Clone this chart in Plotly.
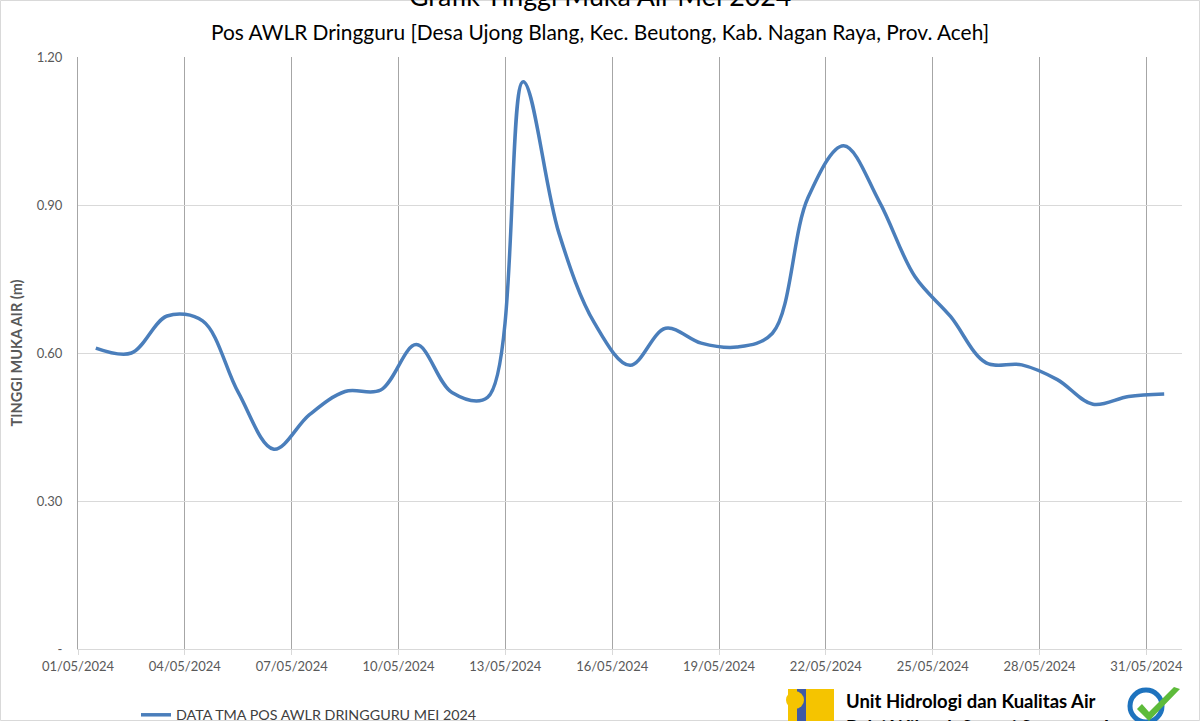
import plotly.graph_objects as go
import pandas as pd

# ---- data ----
days = list(range(1, 32))
tma = [0.61, 0.60, 0.675, 0.665, 0.52, 0.405, 0.475, 0.522, 0.525, 0.617,
       0.52, 0.51, 1.15, 0.844, 0.661, 0.575, 0.65, 0.62, 0.612, 0.64,
       0.915, 1.02, 0.907, 0.755, 0.674, 0.58, 0.576, 0.546, 0.496, 0.512,
       0.517]
dates = [pd.Timestamp(2024, 5, d, 12) for d in days]
y_tickvals = [0, 0.30, 0.60, 0.90, 1.20]
y_ticktext = ["-", "0.30", "0.60", "0.90", "1.20"]
series_name = "DATA TMA POS AWLR DRINGGURU MEI 2024"
title = "Grafik Tinggi Muka Air Mei 2024"
subtitle = "Pos AWLR Dringguru [Desa Ujong Blang, Kec. Beutong, Kab. Nagan Raya, Prov. Aceh]"

W, H = 1200, 721
L, R, T, B = 78, 18, 57, 72
PW, PH = W - L - R, H - T - B


def xp(px):
    return (px - L) / PW


def yp(py):
    return (H - B - py) / PH


FONT = "Lato"
fig = go.Figure()
fig.add_trace(go.Scatter(
    x=dates, y=tma, mode="lines", name=series_name,
    line=dict(color="#4A7EBB", width=3.5, shape="spline", smoothing=1.0),
))

fig.update_layout(
    width=W, height=H,
    margin=dict(l=L, r=R, t=T, b=B, autoexpand=False),
    paper_bgcolor="white", plot_bgcolor="white",
    font=dict(family=FONT, color="#595959"),
    showlegend=True,
    legend=dict(orientation="h", x=xp(136), y=yp(699), xanchor="left", yanchor="top",
                font=dict(size=14.3, color="#404040", family=FONT),
                bgcolor="rgba(0,0,0,0)"),
    xaxis=dict(
        type="date",
        range=[pd.Timestamp(2024, 5, 1), pd.Timestamp(2024, 6, 1)],
        tick0="2024-05-01", dtick=3 * 86400000, tickformat="%d/%m/%Y",
        showgrid=True, gridcolor="#A6A6A6", gridwidth=1,
        showline=True, linecolor="#D9D9D9", linewidth=1,
        ticks="outside", ticklen=5, tickcolor="#D9D9D9",
        tickfont=dict(size=13, color="#595959", family=FONT),
        zeroline=False,
    ),
    yaxis=dict(
        range=[0, 1.2], tickvals=y_tickvals, ticktext=y_ticktext,
        showgrid=True, gridcolor="#D9D9D9", gridwidth=1,
        showline=True, linecolor="#A6A6A6", linewidth=1,
        ticks="", ticklabelstandoff=12,
        tickfont=dict(size=13, color="#595959", family=FONT),
        zeroline=False,
        title=dict(text="<b>TINGGI MUKA AIR (m)</b>", standoff=10,
                   font=dict(size=14.5, color="#595959", family=FONT)),
    ),
)

annotations = [
    dict(text=title, x=xp(600), y=yp(-4), xref="paper", yref="paper",
         xanchor="center", yanchor="middle", showarrow=False,
         font=dict(size=26.8, color="#000000", family=FONT)),
    dict(text=subtitle, x=xp(600), y=yp(32), xref="paper", yref="paper",
         xanchor="center", yanchor="middle", showarrow=False,
         font=dict(size=20.9, color="#000000", family=FONT)),
    dict(text="<b>Unit Hidrologi dan Kualitas Air</b>", x=xp(844), y=yp(701),
         xref="paper", yref="paper", xanchor="left", yanchor="middle",
         showarrow=False, font=dict(size=18.5, color="#000000", family=FONT)),
    dict(text="<b>Balai Wilayah Sungai Sumatera I</b>", x=xp(844), y=yp(727),
         xref="paper", yref="paper", xanchor="left", yanchor="middle",
         showarrow=False, font=dict(size=18.5, color="#000000", family=FONT)),
]
fig.update_layout(annotations=annotations)

shapes = [
    # chart border
    dict(type="rect", xref="paper", yref="paper", x0=xp(0.5), x1=xp(1199.5),
         y0=yp(720.5), y1=yp(0.5), line=dict(color="#D9D9D9", width=1), layer="below"),
    # PU logo
    dict(type="rect", xref="paper", yref="paper", x0=xp(788), x1=xp(834),
         y0=yp(725), y1=yp(689), fillcolor="#F5C400", line=dict(width=0)),
    dict(type="rect", xref="paper", yref="paper", x0=xp(797), x1=xp(806),
         y0=yp(725), y1=yp(689), fillcolor="#3F5AA6", line=dict(width=0)),
    dict(type="circle", xref="paper", yref="paper", x0=xp(786), x1=xp(804),
         y0=yp(709), y1=yp(691), fillcolor="#F5C400", line=dict(width=0)),
    dict(type="rect", xref="paper", yref="paper", x0=xp(788), x1=xp(792),
         y0=yp(725), y1=yp(689), fillcolor="#F5C400", line=dict(width=0)),
    # ISO badge
    dict(type="circle", xref="paper", yref="paper", x0=xp(1130), x1=xp(1162),
         y0=yp(722), y1=yp(690), fillcolor="white", line=dict(color="#1E73BE", width=5)),
    dict(type="path", xref="paper", yref="paper",
         path=("M %f,%f L %f,%f L %f,%f L %f,%f L %f,%f L %f,%f Z" % (
             xp(1137), yp(709), xp(1149), yp(721), xp(1180), yp(689),
             xp(1174), yp(687), xp(1149), yp(712), xp(1142), yp(704))),
         fillcolor="#5DBB3A", line=dict(width=0)),
]
fig.update_layout(shapes=shapes)

fig.write_html("out.html", config={"displayModeBar": False},
               post_script="document.body.style.margin='0';document.body.style.overflow='hidden';")
